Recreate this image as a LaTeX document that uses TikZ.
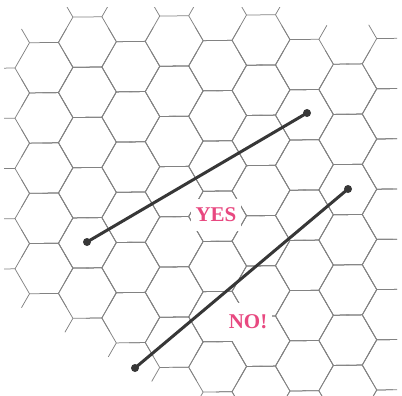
\documentclass[tikz,border=0pt]{standalone}
\usepackage{fontspec}
\setmainfont{Liberation Serif}
\usepackage{tikz}
\usetikzlibrary{calc}
\definecolor{verdictpink}{RGB}{232,72,128}
\definecolor{hexgray}{RGB}{130,130,130}
\definecolor{rodgray}{RGB}{55,55,55}

\begin{document}
\begin{tikzpicture}[
  x=1pt, y=-1pt,
  hexline/.style={draw=hexgray, line width=0.75pt, line join=round},
  rod/.style={draw=rodgray, line width=3pt, line cap=round},
  endpt/.style={circle, fill=rodgray, inner sep=0pt, minimum size=8pt},
  verdict/.style={fill=white, text=verdictpink, font=\fontsize{21}{21}\selectfont\bfseries, inner xsep=5pt, inner ysep=9pt}
]
\useasboundingbox (0,0) rectangle (402,396);

% ---- Hex grid ----
\begin{scope}
\clip (4,8) rectangle (397,396);
\begin{scope}[cm={1,0.012,0,1,(0,0)}]
\foreach \i/\jlo/\jnx/\jhi in {0/2/4/10, 1/1/3/11, 2/2/4/12, 3/1/3/13, 4/2/4/14, 5/1/3/15, 6/2/4/14, 7/3/5/15, 8/2/4/14} {
  \foreach \j in {\jlo,\jnx,...,\jhi} {
    \pgfmathsetmacro{\cx}{44+43.4*\i}
    \pgfmathsetmacro{\cy}{18+25.1*\j}
    \draw[hexline] (\cx,\cy) ++(29,0) -- ++(-14.5,25.1) -- ++(-29,0) -- ++(-14.5,-25.1) -- ++(14.5,-25.1) -- ++(29,0) -- cycle;
    % loose ends where the mesh stops
    \foreach \a in {0,60,...,300}
      \draw[hexline] ($(\cx,\cy)+(\a:29)$) -- ++(\a:16);
  }
}
\end{scope}
\end{scope}

% ---- Rods ----
\node[endpt] (yesA) at (87,242) {};
\node[endpt] (yesB) at (307,113) {};
\node[endpt] (noA) at (135,368) {};
\node[endpt] (noB) at (348,189) {};
\draw[rod] (yesA.center) -- (yesB.center);
\draw[rod] (noA.center) -- (noB.center);

% ---- Labels ----
\node[verdict] (yes) at (216,215) {YES};
\node[verdict, inner ysep=12pt] (no) at (248,322) {NO!};
\end{tikzpicture}
\end{document}
